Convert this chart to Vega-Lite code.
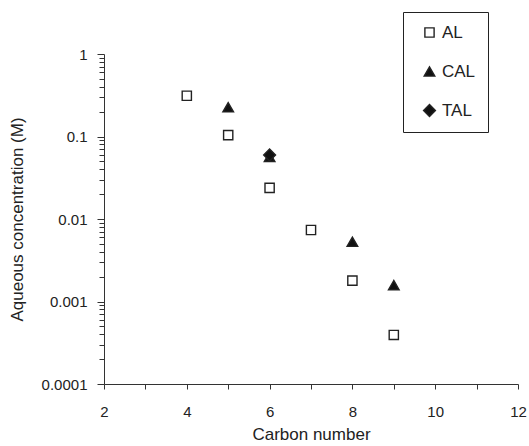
{
  "$schema": "https://vega.github.io/schema/vega-lite/v6.json",
  "autosize": "none",
  "width": 414,
  "height": 330,
  "padding": {"left": 104, "top": 54, "right": 11, "bottom": 62},
  "background": "white",
  "config": {
    "view": {"stroke": null},
    "font": "Liberation Sans",
    "axis": {"labelFont": "Liberation Sans", "titleFont": "Liberation Sans", "labelColor": "#222", "titleColor": "#222", "domainColor": "#333", "tickColor": "#333", "labelFontSize": 15, "titleFontSize": 17, "titleFontWeight": "normal", "grid": false}
  },
  "data": {
    "values": [
      {"carbon": 4, "conc": 0.312, "series": "AL"},
      {"carbon": 5, "conc": 0.104, "series": "AL"},
      {"carbon": 6, "conc": 0.0238, "series": "AL"},
      {"carbon": 7, "conc": 0.00736, "series": "AL"},
      {"carbon": 8, "conc": 0.00179, "series": "AL"},
      {"carbon": 9, "conc": 0.000393, "series": "AL"},
      {"carbon": 5, "conc": 0.226, "series": "CAL"},
      {"carbon": 6, "conc": 0.0565, "series": "CAL"},
      {"carbon": 8, "conc": 0.0053, "series": "CAL"},
      {"carbon": 9, "conc": 0.00158, "series": "CAL"},
      {"carbon": 6, "conc": 0.0597, "series": "TAL"}
    ]
  },
  "mark": {"type": "point", "filled": false, "stroke": "#222", "strokeWidth": 1.4, "opacity": 1},
  "encoding": {
    "x": {
      "field": "carbon", "type": "quantitative",
      "scale": {"domain": [2, 12], "nice": false, "zero": false},
      "axis": {
        "title": "Carbon number",
        "values": [2, 3, 4, 5, 6, 7, 8, 9, 10, 11, 12],
        "labelExpr": "datum.value % 2 == 0 ? datum.label : ''",
        "tickSize": 5, "labelPadding": 15, "titlePadding": 7,
        "labelFlush": false
      }
    },
    "y": {
      "field": "conc", "type": "quantitative",
      "scale": {"type": "log", "domain": [0.0001, 1], "nice": false},
      "axis": {
        "title": "Aqueous concentration (M)",
        "values": [0.0001, 0.0002, 0.0003, 0.0004, 0.0005, 0.0006, 0.0007, 0.0008, 0.0009, 0.001, 0.002, 0.003, 0.004, 0.005, 0.006, 0.007, 0.008, 0.009, 0.01, 0.02, 0.03, 0.04, 0.05, 0.06, 0.07, 0.08, 0.09, 0.1, 0.2, 0.3, 0.4, 0.5, 0.6, 0.7, 0.8, 0.9, 1],
        "labelExpr": "abs(log(datum.value)/LN10 - round(log(datum.value)/LN10)) < 0.000001 ? toString(datum.value) : ''",
        "tickSize": {"condition": {"test": "abs(log(datum.value)/LN10 - round(log(datum.value)/LN10)) < 0.000001", "value": 7}, "value": 5},
        "labelPadding": 10, "titlePadding": 15, "labelFlush": false
      }
    },
    "shape": {
      "field": "series", "type": "nominal",
      "scale": {"domain": ["AL", "CAL", "TAL"], "range": ["square", "triangle-up", "diamond"]},
      "legend": {
        "title": null, "orient": "none", "legendX": 299, "legendY": -42,
        "strokeColor": "#222", "fillColor": "white", "padding": 12,
        "symbolOffset": 6, "labelFontSize": 17, "labelFont": "Liberation Sans", "labelColor": "#222",
        "rowPadding": 21, "labelOffset": 4, "symbolStrokeWidth": 1.4
      }
    },
    "fill": {
      "field": "series", "type": "nominal",
      "scale": {"domain": ["AL", "CAL", "TAL"], "range": ["white", "#111", "#111"]}
    },
    "size": {
      "field": "series", "type": "nominal",
      "scale": {"domain": ["AL", "CAL", "TAL"], "range": [85, 140, 110]}
    }
  }
}
